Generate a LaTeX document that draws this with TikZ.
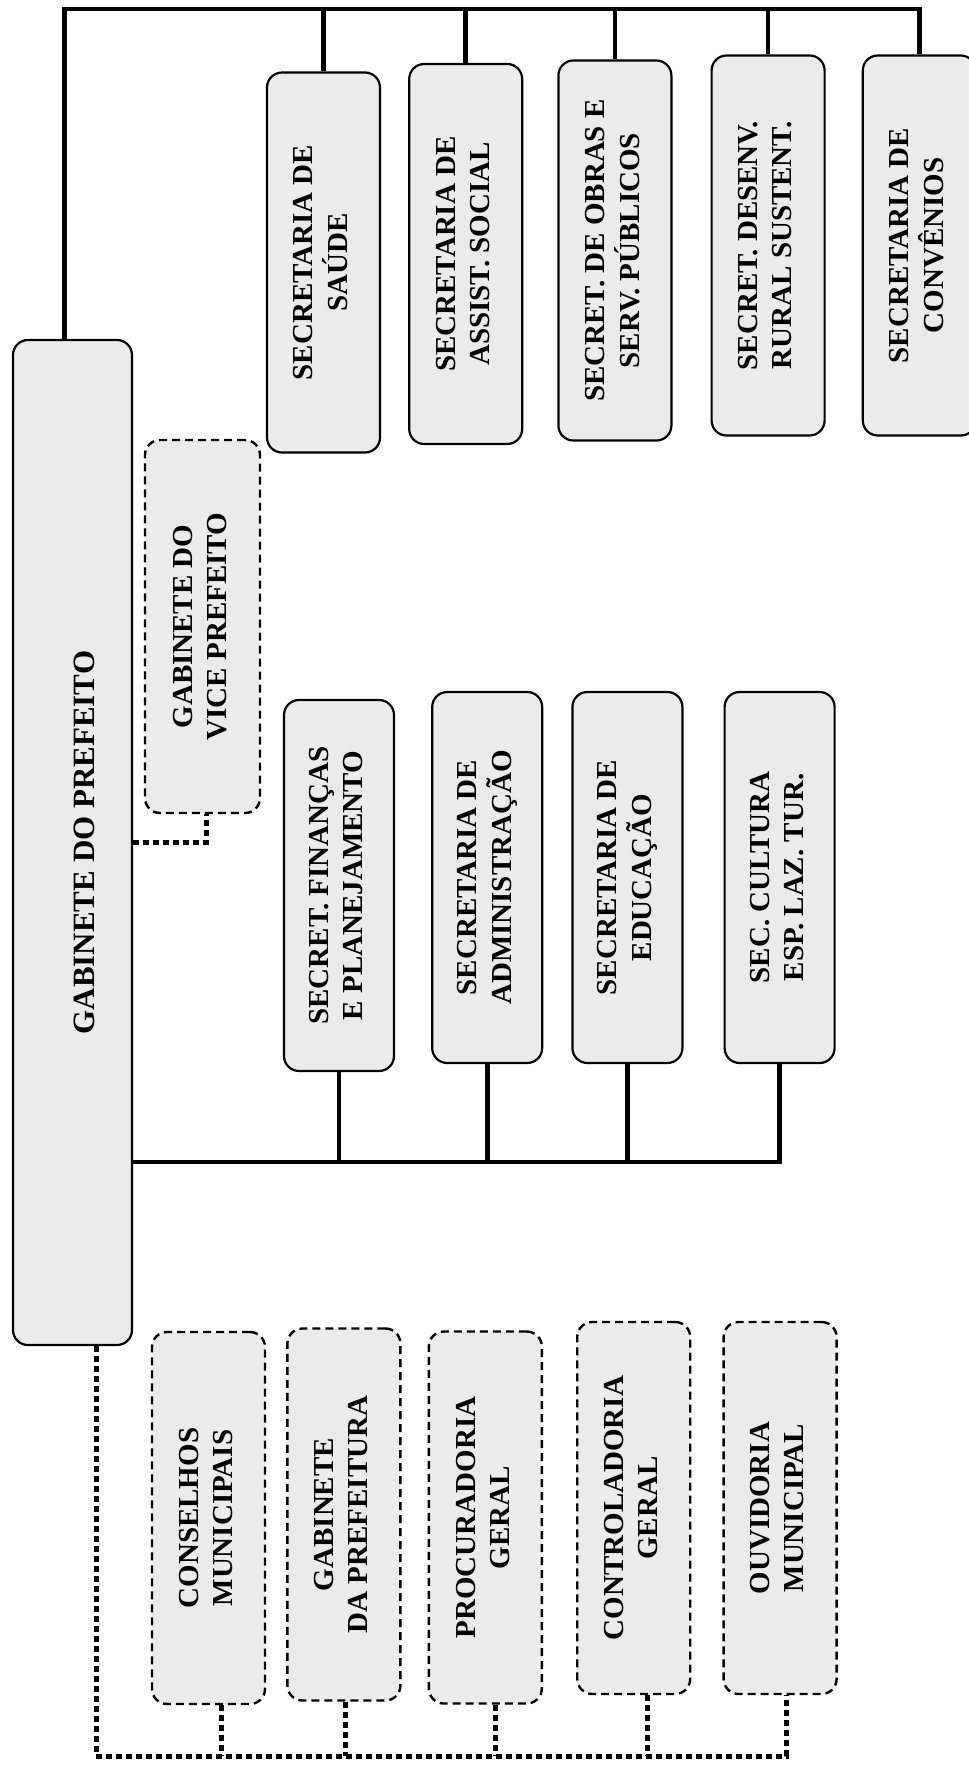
\documentclass[tikz,border=0pt]{standalone}
\usepackage{fontspec}
\setmainfont{Liberation Serif}
\usepackage{graphicx}
\usetikzlibrary{positioning}

\newcommand{\vtexto}[1]{\rotatebox{90}{\begin{tabular}{@{}c@{}}#1\end{tabular}}}

\begin{document}
\begin{tikzpicture}[
    x=1pt, y=-1pt,
    node distance=34pt,
    caixa/.style={draw, line width=2.2pt, rounded corners=15pt, fill=gray!16, inner sep=0pt, font=\fontsize{29}{34}\selectfont\bfseries},
    tracejada/.style={caixa, line width=2.4pt, dash pattern=on 8pt off 5pt},
    cima/.style={caixa, minimum width=113pt, minimum height=380pt},
    meio/.style={caixa, minimum width=110pt, minimum height=371pt},
    baixo/.style={tracejada, minimum width=113pt, minimum height=372pt},
    ligacao/.style={line width=4.6pt},
    pontilhado/.style={line width=5pt, dash pattern=on 6pt off 4pt}
  ]
    \useasboundingbox (0,0) rectangle (969,1765);
    % gabinetes
    \node[caixa, minimum width=119pt, minimum height=1005pt, font=\fontsize{31}{37}\selectfont\bfseries] (gab) at (72.5,842.5) {\rotatebox{90}{\rule{0pt}{45pt}GABINETE DO PREFEITO}};
    \node[tracejada, minimum width=115pt, minimum height=373pt] (vice) at (202.5,626.5) {\vtexto{GABINETE DO\\VICE PREFEITO}};
    % secretarias de cima
    \node[cima] (saude) at (323.5,262.5) {\vtexto{SECRETARIA DE\\SAÚDE}};
    \node[cima, right=27pt of saude, yshift=8.5pt] (assist) {\vtexto{SECRETARIA DE\\ASSIST. SOCIAL}};
    \node[cima, right=34pt of assist, yshift=3.5pt] (obras) {\vtexto{SECRET. DE OBRAS E\\SERV. PÚBLICOS}};
    \node[cima, right=38pt of obras, yshift=5pt] (desenv) {\vtexto{SECRET. DESENV.\\RURAL SUSTENT.}};
    \node[cima, right=36pt of desenv] (conv) {\vtexto{SECRETARIA DE\\CONVÊNIOS}};
    % secretarias do meio
    \node[meio] (financas) at (339,885.5) {\vtexto{SECRET. FINANÇAS\\E PLANEJAMENTO}};
    \node[meio, right=36pt of financas, yshift=8pt] (admin) {\vtexto{SECRETARIA DE\\ADMINISTRAÇÃO}};
    \node[meio, right=28pt of admin] (educ) {\vtexto{SECRETARIA DE\\EDUCAÇÃO}};
    \node[meio, right=40pt of educ] (cultura) {\vtexto{SEC. CULTURA\\ESP. LAZ. TUR.}};
    % orgaos de baixo
    \node[baixo] (conselhos) at (208.5,1518) {\vtexto{CONSELHOS\\MUNICIPAIS}};
    \node[baixo, right=20pt of conselhos, yshift=3.5pt] (gabpref) {\vtexto{GABINETE\\DA PREFEITURA}};
    \node[baixo, right=26pt of gabpref, yshift=-3pt] (procur) {\vtexto{PROCURADORIA\\GERAL}};
    \node[baixo, right=33pt of procur, yshift=9.5pt] (control) {\vtexto{CONTROLADORIA\\GERAL}};
    \node[baixo, right=31pt of control] (ouvid) {\vtexto{OUVIDORIA\\MUNICIPAL}};
    % ligacoes
    \coordinate (topo) at (0,9);
    \coordinate (barra) at (0,1162);
    \coordinate (base) at (0,1756);
    \draw[ligacao] ([xshift=-8pt]gab.north) |- (conv.north |- topo) -- (conv.north);
    \foreach \s in {saude,assist,obras,desenv}
      \draw[ligacao] (\s.north) -- (\s.north |- topo);
    \draw[ligacao] (gab.east |- barra) -| (cultura.south);
    \foreach \s in {financas,admin,educ}
      \draw[ligacao] (\s.south) -- (\s.south |- barra);
    \draw[pontilhado] (gab.east) -| ([xshift=4pt]vice.south);
    \draw[pontilhado] ([xshift=23.5pt]gab.south) |- ([xshift=6pt]ouvid.south |- base) -- ([xshift=6pt]ouvid.south);
    \foreach \s/\d in {conselhos/13,gabpref/2,procur/10,control/14}
      \draw[pontilhado] ([xshift=\d pt]\s.south) -- ([xshift=\d pt]\s.south |- base);
  \end{tikzpicture}
\end{document}
